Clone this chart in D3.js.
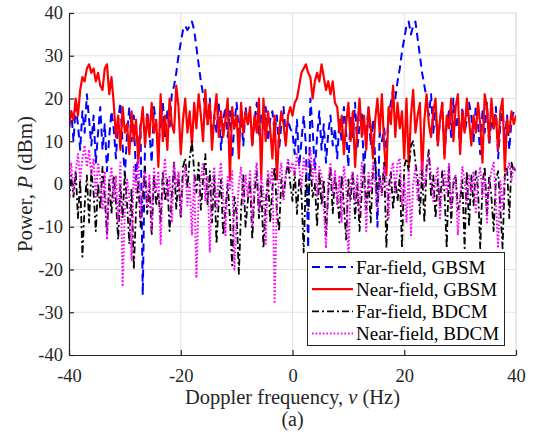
<!DOCTYPE html>
<html>
<head>
<meta charset="utf-8">
<script src="https://cdn.jsdelivr.net/npm/d3@7"></script>
<style>
  body { margin: 0; background: #fff; }
  svg { display: block; font-family: "Liberation Serif", "Times New Roman", serif; }
</style>
</head>
<body>
<svg id="chart" width="534" height="432"></svg>
<script>
// Doppler grid: -40 .. 40 Hz, 0.4 Hz step (201 samples per curve)
let fStart = -40, fStep = 0.4;

// values, 20 samples per row (8 Hz)
let farGBSM = [
    13, 17, 10, 18, 14, 8, 17, 12, 21, 15, 9, 16, 5, 12, 18, 8, 14, 3, 11, 17,
    13, 6, 15, 19, 9, 2, 12, 18, 10, 16, 1, 8, 14, -26, 9, 17, 12, 5, 18, 14,
    8, 15, 19, 11, 17, 13, 21, 23, 26, 30, 33, 36, 37, 36, 37, 38, 36, 32, 28, 24,
    21, 18, 14, 20, 10, 16, 12, 19, 8, 15, 18, 11, 17, 6, 14, 19, 12, 16, 9, 18,
    14, 17, 9, 15, 19, 11, 16, 13, 18, 10, 15, 17, 12, 16, 8, 14, 18, 11, 15, 13,
    12, 7, 15, 4, 10, 16, 9, -15, 20, 13, 3, 11, 17, 8, 14, 5, 12, 16, 9, 13,
    6, 15, 10, 18, 12, 4, 16, 11, 19, 8, 14, 17, 2, 12, 18, 9, 15, 6, -10, 12,
    10, 13, 8, 16, 19, 22, 20, 24, 27, 31, 34, 37, 38, 35, 37, 38, 34, 30, 26, 23,
    20, 16, 21, 12, 18, 9, 15, 19, 7, 14, 17, 11, 20, 13, 16, 8, 18, 12, 15, 19,
    16, 10, 18, 14, 7, 17, 12, 19, 9, 15, 13, 18, 6, 14, 17, 10, 16, 8, 15, 17, 16
];
let nearGBSM = [
    13, 17, 15, 20, 16, 22, 25, 24, 27, 28, 26, 27, 24, 26, 23, 22, 27, 28, 21, 25,
    19, 11, 16, 8, 18, 12, 14, 7, 17, 10, 15, 5, 13, 18, 9, 16, 11, 19, 12, 15,
    4, 21, 10, 16, 8, 20, 14, 12, 23, 18, 7, 15, 20, 12, 17, 9, 19, 13, 21, 16,
    10, 22, 14, 19, 8, 16, 21, 11, 17, 11, 15, 20, 1, 18, 13, 16, 6, 19, 12, 17,
    14, 18, 9, 16, 12, 20, 1, 20, 10, 17, 13, 6, 16, 1, 12, 17, 14, 9, 16, 18,
    16, 19, 20, 23, 26, 27, 28, 26, 25, 20, 24, 26, 24, 28, 25, 22, 24, 21, 24, 19,
    18, 12, 16, 7, 14, 19, 10, 17, 4, 13, 20, 11, 16, 8, 18, 13, 6, 15, 20, 12,
    21, 9, 2, 18, 14, 23, 11, 19, 13, 17, 6, 20, 4, 16, 22, 12, 16, 19, 2, 15,
    21, 14, 11, 17, 20, 9, 15, 19, 6, 16, 13, 20, 10, 18, 21, 7, 17, 12, 20, 15,
    9, 16, 12, 19, 14, 5, 21, 18, 10, 20, 13, 16, 8, 17, 20, 3, 15, 12, 17, 14, 16
];
let farBDCM = [
    -4, 2, -3, 3, -8, 1, -17, -5, 2, -9, 3, -2, -11, 0, -6, 4, -3, -12, 1, -7,
    2, -4, -13, 0, -8, 3, -5, -14, -1, -20, -6, 1, -10, -3, 4, -7, 0, -12, 2, -5,
    -2, -9, 3, -4, 1, -11, -3, 5, -6, 2, -8, 4, 6, -1, 6, 10, 3, -2, 5, -6,
    1, 7, -5, 3, -9, 2, -14, -4, 1, -12, -6, 0, -8, -19, -3, -7, -21, -6, 2, -10,
    -4, 1, -13, -2, 3, -8, 0, -15, -5, 2, -9, -1, 4, -6, -11, 1, -3, 2, 5, 0,
    -4, 3, -7, 1, -2, -16, 2, -6, 5, -3, 0, -10, 3, -5, 1, -12, -2, 4, -7, 2,
    -3, -9, 2, -5, -13, 1, -4, 3, -8, 0, -11, -2, 4, -6, 1, -9, 3, 6, -4, 2,
    -2, 5, -15, -1, 3, -6, 1, -4, 2, -15, 4, 6, 3, 9, 10, 5, 1, -7, 3, -9,
    4, 8, -3, 2, -8, 1, -5, 3, -2, -15, 4, -9, 0, 2, -6, -4, 1, -15, 3, -10,
    2, -5, 3, -1, -15, 0, 4, -7, 2, -3, -11, 1, 3, -6, -15, 2, 4, -8, 5, 3, 4
];
let nearBDCM = [
    0, 5, -2, 3, 7, 1, 6, 9, 4, 8, 2, 6, -3, 5, 1, -6, 3, -13, 0, 4,
    -4, 2, -9, 5, -24, -6, 1, -3, -18, 4, -2, 6, -8, 0, 3, -5, 2, -11, 4, -2,
    3, -14, 1, 6, -4, 2, -9, 5, -1, 3, -7, 1, 4, -5, 0, -12, 2, -22, -3, 1,
    5, -4, 2, -16, 0, 4, -6, 1, 5, -3, -12, 2, -1, 3, -20, -8, 0, 4, -5, 2,
    -3, 3, -10, 1, 5, -6, 2, -2, -14, 3, 0, 4, -28, -5, 1, 5, -4, 2, 6, 3,
    5, 2, 7, 4, -1, 6, 3, 5, 8, 1, 6, -3, 4, 2, -6, -15, 1, 5, -2, 3,
    -5, 2, -9, 4, 0, -18, 1, 3, -4, 2, -7, 5, 1, -11, 3, -2, 5, 0, -6, 2,
    -3, 4, 1, -8, 3, 5, -2, 5, 6, -5, 1, -9, 3, -12, 0, 4, -4, 2, 5, -1,
    3, 7, 2, -4, 1, 4, -8, 0, 3, -2, 5, -6, 1, 2, -12, -3, 4, 1, -5, 2,
    -2, 3, -7, 1, 4, -3, 2, -9, 0, 3, 5, -4, -15, 1, -6, 2, 3, 5, 1, 4, 3
];

let xTicks = [-40, -20, 0, 20, 40];
let yTicks = [-40, -30, -20, -10, 0, 10, 20, 30, 40];
let seriesNames = ["Far-field, GBSM", "Near-field, GBSM", "Far-field, BDCM", "Near-field, BDCM"];

let series = [
    { name: seriesNames[0], values: farGBSM, color: "#0000ff", width: 2, dash: "8,5" },
    { name: seriesNames[1], values: nearGBSM, color: "#ff0000", width: 2.2, dash: null },
    { name: seriesNames[2], values: farBDCM, color: "#000000", width: 1.8, dash: "7,3,2,3" },
    { name: seriesNames[3], values: nearBDCM, color: "#ff00ff", width: 2, dash: "1.6,2" }
];

let svg = d3.select("#chart");
let pLeft = 69, pRight = 516, pTop = 13, pBottom = 355;
let axisColor = "#262626";

let xScale = d3.scaleLinear().domain([-40, 40]).range([pLeft, pRight]);
let yScale = d3.scaleLinear().domain([-40, 40]).range([pBottom, pTop]);

svg.append("rect").attr("width", 534).attr("height", 432).attr("fill", "#fff");

// grid
let grid = svg.append("g");
grid.selectAll(".gx").data(xTicks.slice(1, -1)).enter().append("line")
    .attr("x1", d => xScale(d)).attr("x2", d => xScale(d))
    .attr("y1", pTop).attr("y2", pBottom)
    .attr("stroke", "#e2e2e2").attr("stroke-width", 1);
grid.selectAll(".gy").data(yTicks.slice(1, -1)).enter().append("line")
    .attr("x1", pLeft).attr("x2", pRight)
    .attr("y1", d => yScale(d)).attr("y2", d => yScale(d))
    .attr("stroke", "#e2e2e2").attr("stroke-width", 1);

// light top / right frame
svg.append("path")
    .attr("d", "M" + pLeft + "," + pTop + "H" + pRight + "V" + pBottom)
    .attr("fill", "none").attr("stroke", "#d9d9d9").attr("stroke-width", 1.2);

// curves
svg.append("clipPath").attr("id", "clip")
    .append("rect").attr("x", pLeft).attr("y", pTop)
    .attr("width", pRight - pLeft).attr("height", pBottom - pTop);

let lineMaker = d3.line()
    .x((d, i) => xScale(fStart + fStep * i))
    .y(d => yScale(d));

let plot = svg.append("g").attr("clip-path", "url(#clip)");
series.forEach(s => {
    plot.append("path")
        .attr("d", lineMaker(s.values))
        .attr("fill", "none")
        .attr("stroke", s.color)
        .attr("stroke-width", s.width)
        .attr("stroke-dasharray", s.dash)
        .attr("stroke-linejoin", "round");
});

// axes
let xAxis = svg.append("g")
    .attr("transform", "translate(0," + pBottom + ")")
    .call(d3.axisBottom(xScale).tickValues(xTicks).tickFormat(d => String(d))
        .tickSizeInner(-5).tickSizeOuter(0).tickPadding(14));
let yAxis = svg.append("g")
    .attr("transform", "translate(" + pLeft + ",0)")
    .call(d3.axisLeft(yScale).tickValues(yTicks).tickFormat(d => String(d))
        .tickSizeInner(-5).tickSizeOuter(0).tickPadding(6));

[xAxis, yAxis].forEach(a => {
    a.select(".domain").attr("stroke", axisColor).attr("stroke-width", 1.2);
    a.selectAll(".tick line").attr("stroke", axisColor).attr("stroke-width", 1.2);
    a.selectAll("text")
        .attr("fill", axisColor)
        .style("font-family", "'Liberation Serif', serif")
        .style("font-size", "18.5px");
});

// axis labels
let xLabel = svg.append("text")
    .attr("x", (pLeft + pRight) / 2).attr("y", 404)
    .attr("text-anchor", "middle")
    .attr("fill", axisColor)
    .style("font-size", "20.5px");
xLabel.append("tspan").text("Doppler frequency, ");
xLabel.append("tspan").attr("font-style", "italic").text("ν");
xLabel.append("tspan").text(" (Hz)");

svg.append("text")
    .attr("x", (pLeft + pRight) / 2).attr("y", 426)
    .attr("text-anchor", "middle")
    .attr("fill", axisColor)
    .style("font-size", "20px")
    .text("(a)");

let yLabel = svg.append("text")
    .attr("transform", "translate(32," + yScale(0) + ") rotate(-90)")
    .attr("text-anchor", "middle")
    .attr("fill", axisColor)
    .style("font-size", "21px");
yLabel.append("tspan").text("Power, ");
yLabel.append("tspan").attr("font-style", "italic").text("P");
yLabel.append("tspan").text(" (dBm)");

// legend
let legend = svg.append("g");
legend.append("rect")
    .attr("x", 307.5).attr("y", 252.5)
    .attr("width", 197).attr("height", 93)
    .attr("fill", "#fff")
    .attr("stroke", axisColor).attr("stroke-width", 1);

series.forEach((s, i) => {
    let yy = 267 + i * 22.2;
    legend.append("line")
        .attr("x1", 312).attr("x2", 353)
        .attr("y1", yy).attr("y2", yy)
        .attr("stroke", s.color)
        .attr("stroke-width", s.width)
        .attr("stroke-dasharray", s.dash);
    legend.append("text")
        .attr("x", 356).attr("y", yy)
        .attr("dy", "0.35em")
        .attr("fill", "#000")
        .style("font-size", "19px")
        .text(s.name);
});
</script>
</body>
</html>
